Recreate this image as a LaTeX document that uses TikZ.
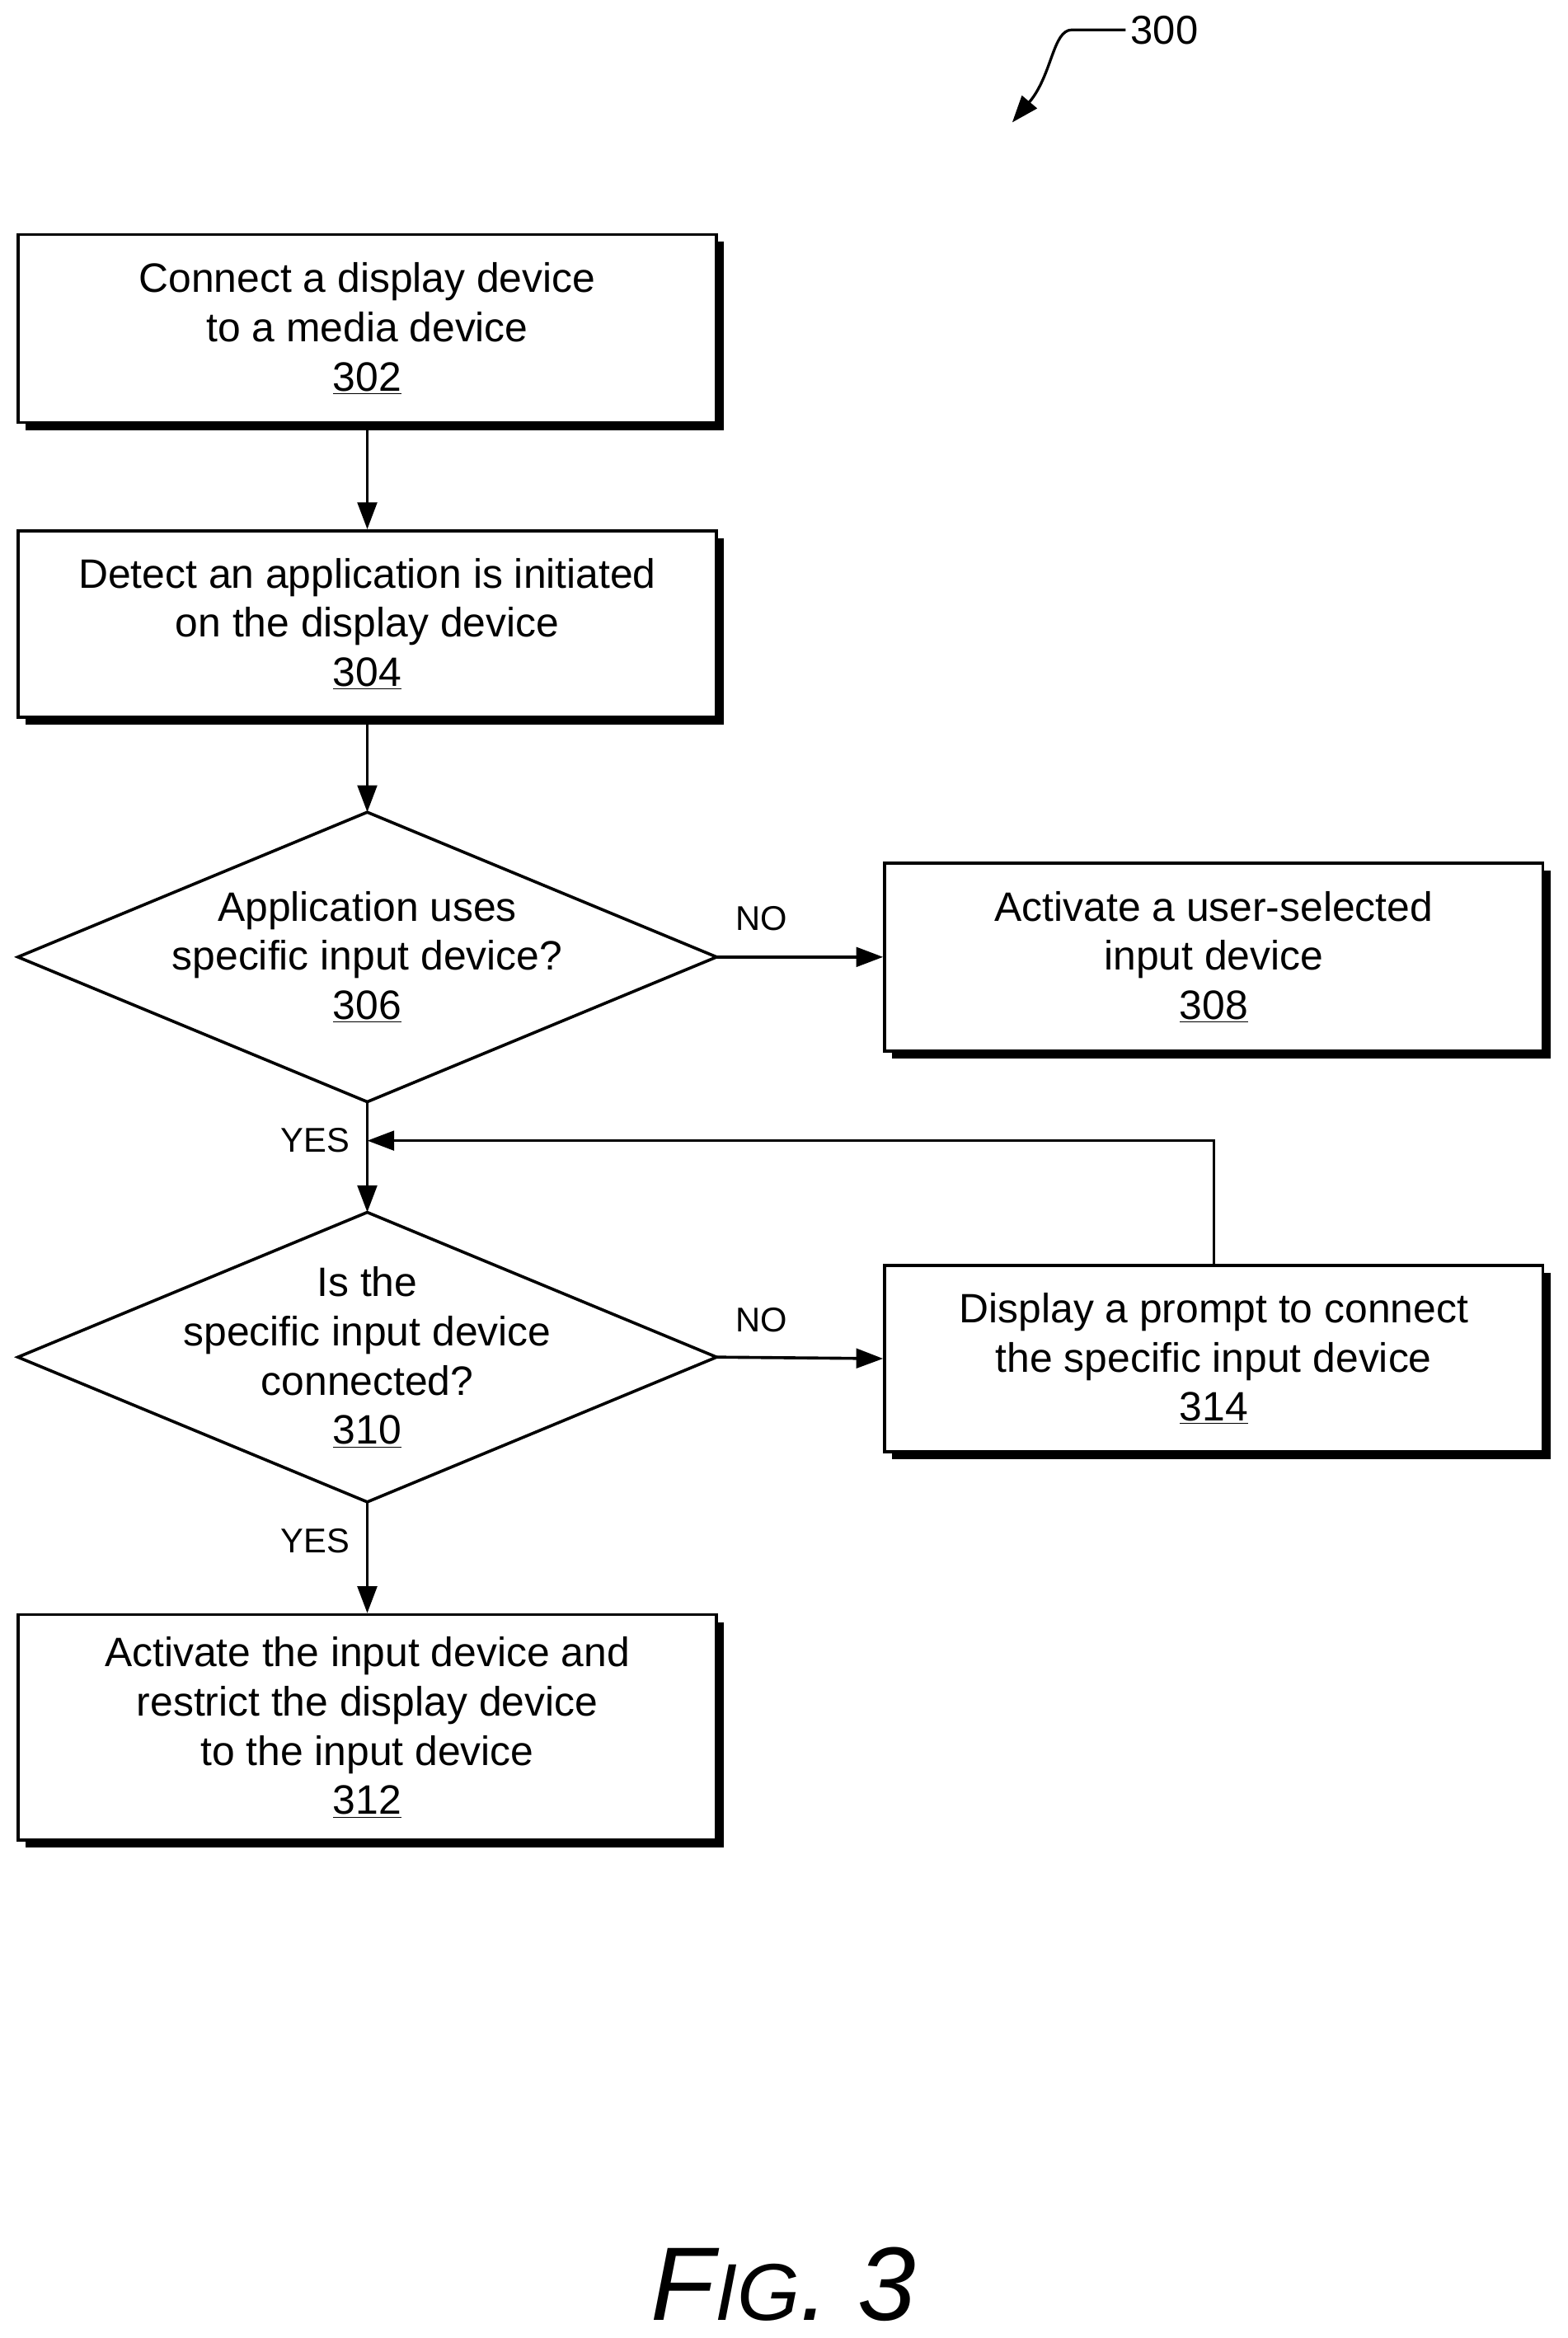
\documentclass[tikz,border=0pt]{standalone}
\usepackage{fontspec}
\setmainfont{Liberation Sans}
\usetikzlibrary{shapes.geometric,arrows.meta,shadows}
\begin{document}
\begin{tikzpicture}[x=1pt,y=-1pt,
  box/.style={draw,line width=2pt,fill=white,minimum width=468pt,align=center,font=\fontsize{27.5}{33}\selectfont,
    inner sep=0pt, general shadow={fill=black,shadow xshift=5pt,shadow yshift=-5pt}},
  txt/.style={align=center,inner sep=0pt,font=\fontsize{27.5}{33}\selectfont},
  dline/.style={draw,line width=2pt},
  lab/.style={font=\fontsize{23}{26}\selectfont},
  arr/.style={line width=2pt,-{Triangle[length=18pt,width=13pt]}}]
\useasboundingbox (0,0) rectangle (1050,1566);
\node[box,minimum height=126pt] (b302) at (246,220) {Connect a display device\\to a media device\\\underline{302}};
\node[box,minimum height=125pt] (b304) at (246,418) {Detect an application is initiated\\on the display device\\\underline{304}};
% diamond 306
\coordinate (d306n) at (246,544); \coordinate (d306s) at (246,738);
\coordinate (d306w) at (12,641); \coordinate (d306e) at (480,641);
\draw[dline] (d306n) -- (d306e) -- (d306s) -- (d306w) -- cycle;
\node[txt] (t306) at (246,641) {Application uses\\specific input device?\\\underline{306}};
\node[box,minimum width=441pt,minimum height=126pt] (b308) at (813,641) {Activate a user-selected\\input device\\\underline{308}};
% diamond 310
\coordinate (d310n) at (246,812); \coordinate (d310s) at (246,1006);
\coordinate (d310w) at (12,909); \coordinate (d310e) at (480,909);
\draw[dline] (d310n) -- (d310e) -- (d310s) -- (d310w) -- cycle;
\node[txt] (t310) at (246,909) {Is the\\specific input device\\connected?\\\underline{310}};
\node[box,minimum width=441pt,minimum height=125pt] (b314) at (813,910) {Display a prompt to connect\\the specific input device\\\underline{314}};
\node[box,minimum height=151pt] (b312) at (246,1157) {Activate the input device and\\restrict the display device\\to the input device\\\underline{312}};
\draw[arr] (b302) -- (b304);
\draw[arr] (b304) -- (d306n);
\draw[arr] (d306s) -- (d310n);
\draw[arr] (d310s) -- (b312);
\draw[arr] (d306e) -- (b308.west);
\draw[arr] (d310e) -- (b314.west);
\coordinate (m) at (246,764);
\draw[arr] (b314.north) |- (m);
\node[lab] (n1) at (510,615) {NO};
\node[lab] (n2) at (510,884) {NO};
\node[lab] (y1) at (211,764) {YES};
\node[lab] (y2) at (211,1032) {YES};
\node[font=\fontsize{27}{30}\selectfont] (t300) at (780,20) {300};
\coordinate (a0) at (678,82);
\draw[line width=1.8pt,-{Triangle[length=18pt,width=13pt]}] (t300.west) -- (718,20) .. controls (705,20) and (705,50) .. (a0);
\node[font=\itshape\fontsize{70}{80}\selectfont] (fig) at (525,1530) {F{\fontsize{54}{60}\selectfont IG}. 3};
\end{tikzpicture}
\end{document}
